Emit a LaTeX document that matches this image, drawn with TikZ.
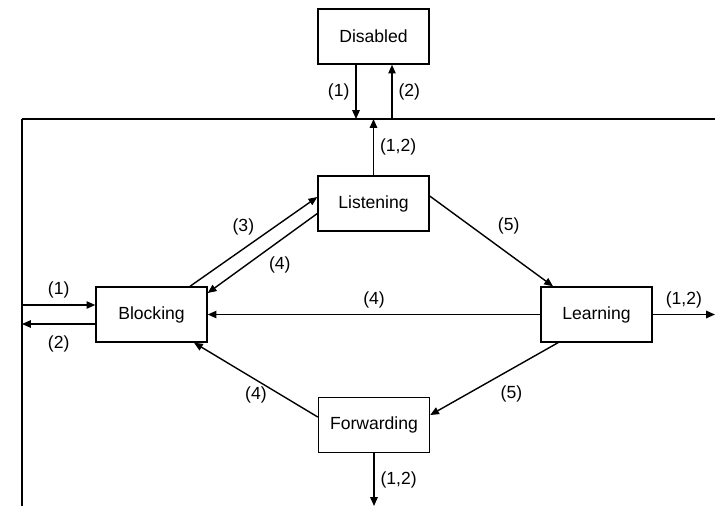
\documentclass[tikz,border=0pt]{standalone}
\usepackage{fontspec}
\setmainfont{Liberation Sans}
\usetikzlibrary{arrows.meta}

\begin{document}
\begin{tikzpicture}[>={Triangle[length=5pt, width=4.2pt]}, line width=0.8pt,
    portstate/.style={draw, minimum width=2.22cm, minimum height=1.1cm, inner sep=0pt}]
    \useasboundingbox (0,0) rectangle (14.3,-10.12);
    \node[portstate] (dis) at (7.47, -0.73) {Disabled};
    \node[portstate] (lis) at (7.47, -4.07) {Listening};
    \node[portstate] (blk) at (3.03, -6.29) {Blocking};
    \node[portstate] (lrn) at (11.93, -6.29) {Learning};
    \node[portstate] (fwd) at (7.48, -8.5) {Forwarding};
    \coordinate (busL) at (0.44, -2.38);
    \coordinate (busR) at (14.3, -2.38);
    \coordinate (busB) at (0.44, -10.12);
    \coordinate (disA) at ([xshift=-0.35cm]dis.south);
    \coordinate (disB) at ([xshift=0.37cm]dis.south);
    \coordinate (blkA) at ([yshift=0.19cm]blk.west);
    \coordinate (blkB) at ([yshift=-0.19cm]blk.west);
    \draw (busL) -- (busR);
    \draw (busL) -- (busB);
    \draw[->] (disA) -- (disA |- busL)
        node[midway, left] {(1)};
    \draw[->] (disB |- busL) -- (disB)
        node[midway, right] {(2)};
    \draw[->] (lis) -- (lis |- busL)
        node[midway, right] {(1,2)};
    \draw[->] (blkA -| busL) -- (blkA)
        node[midway, above] {(1)};
    \draw[->] (blkB) -- (blkB -| busL)
        node[midway, below=3pt] {(2)};
    \draw[->] (lrn.east) -- (lrn.east -| busR)
        node[midway, above] {(1,2)};
    \draw[->] (fwd) -- (fwd |- busB)
        node[midway, right] {(1,2)};
    \draw[->] ([xshift=0.77cm]blk.north) -- ([yshift=0.13cm]lis.west)
        node[midway, above left, xshift=4pt] {(3)};
    \draw[->] ([yshift=-0.2cm]lis.west) -- ([yshift=0.43cm]blk.east)
        node[midway, below right, yshift=2pt] {(4)};
    \draw[->] ([yshift=0.15cm]lis.east) -- ([xshift=-0.87cm]lrn.north)
        node[midway, above right] {(5)};
    \draw[->] (lrn.west) -- (blk.east)
        node[midway, above] {(4)};
    \draw[->] ([xshift=-0.77cm]lrn.south) -- ([yshift=0.2cm]fwd.east)
        node[midway, below right] {(5)};
    \draw[->] ([yshift=0.16cm]fwd.west) -- ([xshift=0.85cm]blk.south)
        node[midway, below] {(4)};
\end{tikzpicture}
\end{document}
